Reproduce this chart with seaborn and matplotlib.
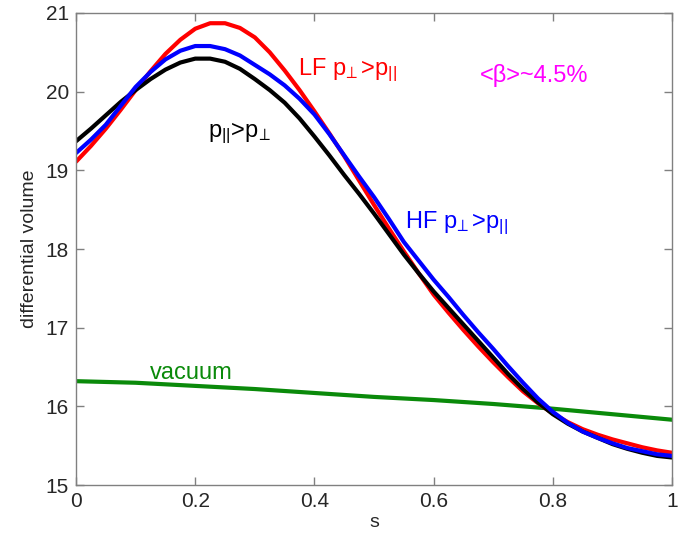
import numpy as np
import pandas as pd
import matplotlib
matplotlib.use("Agg")
import matplotlib.pyplot as plt
import seaborn as sns

# ── data ────────────────────────────────────────────────────────────────────
s = [0.000, 0.025, 0.050, 0.075, 0.100, 0.125, 0.150, 0.175, 0.200, 0.225,
     0.250, 0.275, 0.300, 0.325, 0.350, 0.375, 0.400, 0.425, 0.450, 0.475,
     0.500, 0.525, 0.550, 0.575, 0.600, 0.625, 0.650, 0.675, 0.700, 0.725,
     0.750, 0.775, 0.800, 0.825, 0.850, 0.875, 0.900, 0.925, 0.950, 0.975, 1.000]

lf_perp = [19.11, 19.31, 19.53, 19.77, 20.02, 20.26, 20.48, 20.66, 20.80, 20.87,
           20.87, 20.81, 20.69, 20.50, 20.27, 20.02, 19.75, 19.47, 19.18, 18.87,
           18.56, 18.26, 17.97, 17.69, 17.42, 17.19, 16.97, 16.76, 16.56, 16.37,
           16.19, 16.04, 15.91, 15.80, 15.71, 15.64, 15.58, 15.53, 15.48, 15.44, 15.41]
par_gt_perp = [19.37, 19.53, 19.70, 19.87, 20.02, 20.16, 20.28, 20.37, 20.42, 20.42,
               20.38, 20.29, 20.16, 20.02, 19.86, 19.66, 19.43, 19.19, 18.94, 18.70,
               18.45, 18.19, 17.93, 17.69, 17.46, 17.25, 17.04, 16.83, 16.62, 16.41,
               16.22, 16.05, 15.90, 15.78, 15.68, 15.60, 15.52, 15.46, 15.41, 15.37, 15.35]
hf_perp = [19.22, 19.39, 19.58, 19.82, 20.06, 20.25, 20.41, 20.52, 20.58, 20.58,
           20.54, 20.46, 20.34, 20.22, 20.08, 19.91, 19.71, 19.46, 19.19, 18.92,
           18.66, 18.38, 18.09, 17.85, 17.61, 17.39, 17.16, 16.94, 16.73, 16.51,
           16.30, 16.10, 15.93, 15.79, 15.68, 15.60, 15.53, 15.47, 15.43, 15.39, 15.37]

s_vac = [0.0, 0.1, 0.2, 0.3, 0.4, 0.5, 0.6, 0.7, 0.8, 0.9, 1.0]
vacuum = [16.32, 16.30, 16.26, 16.22, 16.17, 16.12, 16.08, 16.03, 15.97, 15.90, 15.83]

x_ticks = [0, 0.2, 0.4, 0.6, 0.8, 1]
x_ticklabels = ["0", "0.2", "0.4", "0.6", "0.8", "1"]
y_ticks = [15, 16, 17, 18, 19, 20, 21]

sns.set_theme(style="white")
plt.rcParams["font.family"] = ["Liberation Sans", "DejaVu Sans"]
plt.rcParams["mathtext.fontset"] = "custom"
plt.rcParams["mathtext.rm"] = "Liberation Sans"
plt.rcParams["mathtext.it"] = "Liberation Sans"

df = pd.DataFrame({"s": s, "lf": lf_perp, "par": par_gt_perp, "hf": hf_perp})
df_vac = pd.DataFrame({"s": s_vac, "vac": vacuum})

fig = plt.figure(figsize=(6.95, 5.37), dpi=100)
ax = fig.add_axes([0.1094, 0.0968, 0.8576, 0.879])

# draw order: vacuum, LF, p||>p_perp, HF
sns.lineplot(data=df_vac, x="s", y="vac", color="#0a8a0a", lw=3, ax=ax)
sns.lineplot(data=df, x="s", y="lf", color="#ff0000", lw=3, ax=ax)
sns.lineplot(data=df, x="s", y="par", color="#000000", lw=3, ax=ax)
sns.lineplot(data=df, x="s", y="hf", color="#0000ff", lw=3, ax=ax)

ax.set_xlim(0, 1)
ax.set_ylim(15, 21)
ax.set_xticks(x_ticks)
ax.set_xticklabels(x_ticklabels)
ax.set_yticks(y_ticks)
ax.set_xlabel("s", fontsize=14, labelpad=2)
ax.set_ylabel("differential volume", fontsize=14, labelpad=6)

ax.tick_params(axis="both", which="both", direction="in", length=6, width=1,
               color="#808080", labelsize=15, top=True, right=True,
               bottom=True, left=True, pad=5)
for sp in ax.spines.values():
    sp.set_color("#808080")
    sp.set_linewidth(1)

# annotations
ax.text(0.372, 20.27, r"LF p$_{\!\perp}$>p$_{||}$", color="#ff0000",
        fontsize=17, ha="left", va="center")
ax.text(0.678, 20.21, "<β>~4.5%", color="#ff00ff",
        fontsize=17, ha="left", va="center")
ax.text(0.222, 19.47, r"p$_{||}$>p$_{\!\perp}$", color="#000000",
        fontsize=17, ha="left", va="center")
ax.text(0.552, 18.33, r"HF p$_{\!\perp}$>p$_{||}$", color="#0000ff",
        fontsize=17, ha="left", va="center")
ax.text(0.124, 16.43, "vacuum", color="#0a8a0a",
        fontsize=17, ha="left", va="center")

fig.savefig("out.png", dpi=100)
